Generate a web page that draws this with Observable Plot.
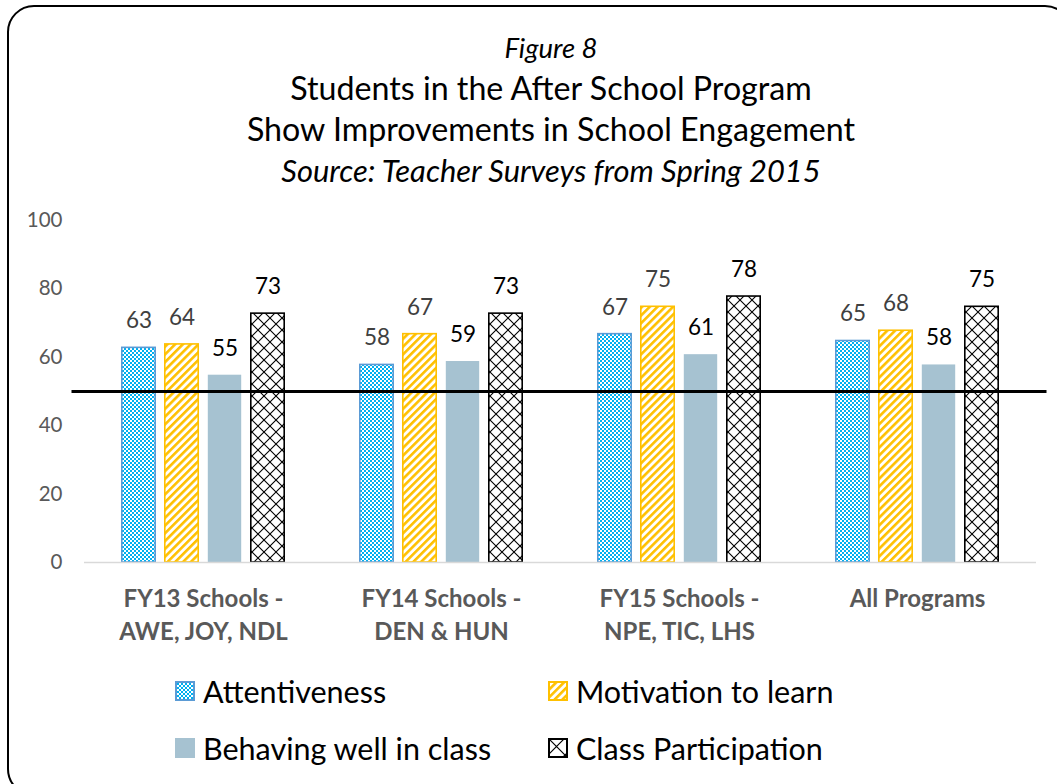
<!DOCTYPE html>
<html><head><meta charset="utf-8">
<script src="https://cdn.jsdelivr.net/npm/d3@7"></script>
<script src="https://cdn.jsdelivr.net/npm/@observablehq/plot@0.6"></script>
<style>
html,body{margin:0;padding:0;background:#fff;}
#wrap{position:relative;width:1057px;height:784px;overflow:hidden;background:#fff;font-family:Lato,"Open Sans",sans-serif;}
#frame{position:absolute;left:7px;top:5px;width:1065px;height:791px;border:2.5px solid #000;border-radius:27px;box-sizing:border-box;}
#chart{position:absolute;left:0;top:0;}
.t{position:absolute;left:0;width:1102px;text-align:center;color:#000;white-space:nowrap;line-height:1;}
.leg{position:absolute;display:flex;align-items:center;font-size:30.5px;line-height:1;color:#000;white-space:nowrap;}
.leg svg{margin-right:8px;}
</style>
</head><body>
<svg width="0" height="0" style="position:absolute">
  <defs>
    <pattern id="pChecker" width="4" height="4" patternUnits="userSpaceOnUse">
      <rect width="4" height="4" fill="#fff"/>
      <rect width="2" height="2" fill="#00B0F0"/>
      <rect x="2" y="2" width="2" height="2" fill="#00B0F0"/>
    </pattern>
    <pattern id="pStripe" width="5.5" height="5.5" patternUnits="userSpaceOnUse" patternTransform="rotate(45)">
      <rect width="5.5" height="5.5" fill="#fff"/>
      <rect width="2.6" height="5.5" fill="#FFC000"/>
    </pattern>
    <pattern id="pCross" width="12" height="12" patternUnits="userSpaceOnUse">
      <rect width="12" height="12" fill="#fff"/>
      <path d="M0,0L12,12M12,0L0,12" stroke="#000" stroke-width="1.1"/>
    </pattern>
    <pattern id="pCrossSmall" width="17" height="17" patternUnits="userSpaceOnUse">
      <rect width="17" height="17" fill="#fff"/>
      <path d="M0,0L17,17M17,0L0,17" stroke="#000" stroke-width="1.2"/>
    </pattern>
  </defs>
</svg>
<div id="wrap">
  <div id="frame"></div>
  <div id="chart"></div>
  <div class="t" id="t1" style="top:33.6px;font-size:27.5px;font-style:italic;">Figure 8</div>
  <div class="t" id="t2" style="top:72.4px;font-size:32.2px;">Students in the After School Program</div>
  <div class="t" id="t3" style="top:113.4px;font-size:32.2px;">Show Improvements in School Engagement</div>
  <div class="t" id="t4" style="top:155.6px;font-size:30.9px;font-style:italic;">Source: Teacher Surveys from Spring 2015</div>
  <div id="legend"></div>
</div>
<script>
// ---- data ----
const groups = ["FY13 Schools -\nAWE, JOY, NDL", "FY14 Schools -\nDEN & HUN", "FY15 Schools -\nNPE, TIC, LHS", "All Programs"];
const series = ["Attentiveness", "Motivation to learn", "Behaving well in class", "Class Participation"];
const attentiveness = [63, 58, 67, 65];
const motivation = [64, 67, 75, 68];
const behaving = [55, 59, 61, 58];
const participation = [73, 73, 78, 75];
const yTicks = [0, 20, 40, 60, 80, 100];
const threshold = 50;

// ---- styles ----
const values = [attentiveness, motivation, behaving, participation];
const fills = ["url(#pChecker)", "url(#pStripe)", "#A6C2D1", "url(#pCross)"];
const strokes = ["#5B9BD5", "#FFC000", "none", "#000"];
const labelColors = ["#404040", "#404040", "#000", "#000"];
const legendFills = ["url(#pChecker)", "url(#pStripe)", "#A6C2D1", "url(#pCrossSmall)"];

const data = groups.flatMap((g, i) => series.map((s, j) => ({group: g, series: s, value: values[j][i]})));
const thresholdData = groups.map(g => ({group: g, value: threshold}));

const marks = [];
series.forEach((s, j) => {
  const sub = data.filter(d => d.series === s);
  marks.push(Plot.barY(sub, {
    fx: "group", x: "series", y: "value",
    fill: fills[j], stroke: strokes[j], strokeWidth: 1.6,
    insetLeft: 0.8, insetRight: 0.8, insetTop: 0.8
  }));
});
marks.push(Plot.ruleY([0], {stroke: "#D9D9D9", strokeWidth: 1.5}));
series.forEach((s, j) => {
  const sub = data.filter(d => d.series === s);
  marks.push(Plot.text(sub, {
    fx: "group", x: "series", y: "value", text: d => String(d.value),
    dy: -26, fontSize: 22.5, fill: labelColors[j]
  }));
});
marks.push(Plot.ruleY(thresholdData, {fx: "group", y: "value", stroke: "#000", strokeWidth: 3, insetLeft: -12.5, insetRight: -10.5}));
marks.push(Plot.axisY({ticks: yTicks, tickSize: 0, tickPadding: 22, fontSize: 20.5, fill: "#595959", label: null}));
marks.push(Plot.axisFx({anchor: "bottom", tickSize: 0, tickPadding: 21, fontSize: 24, fontWeight: "bold", fill: "#595959", lineHeight: 1.375, label: null}));

const chart = Plot.plot({
  width: 1057, height: 784,
  marginTop: 220, marginBottom: 222, marginLeft: 72, marginRight: 10,
  style: {fontFamily: "Lato, 'Open Sans', sans-serif", background: "transparent", overflow: "visible"},
  fx: {domain: groups, paddingInner: 0, paddingOuter: 0.044, label: null},
  x: {domain: series, paddingInner: 0.19, paddingOuter: 0.85, axis: null},
  y: {domain: [0, 100], label: null},
  marks
});
document.getElementById("chart").appendChild(chart);

// ---- legend ----
const legendPos = [[175, 683], [548, 683], [175, 740], [548, 740]];
const leg = document.getElementById("legend");
series.forEach((s, j) => {
  const item = document.createElement("div");
  item.className = "leg";
  item.style.left = legendPos[j][0] + "px";
  item.style.top = (legendPos[j][1] - 7) + "px";
  const sw = `<svg width="20" height="20"><rect x="1" y="1" width="18" height="18" fill="${legendFills[j]}" stroke="${strokes[j] === 'none' ? '#A6C2D1' : strokes[j]}" stroke-width="2"/></svg>`;
  item.innerHTML = sw + `<span>${s}</span>`;
  leg.appendChild(item);
});
</script>
</body></html>
